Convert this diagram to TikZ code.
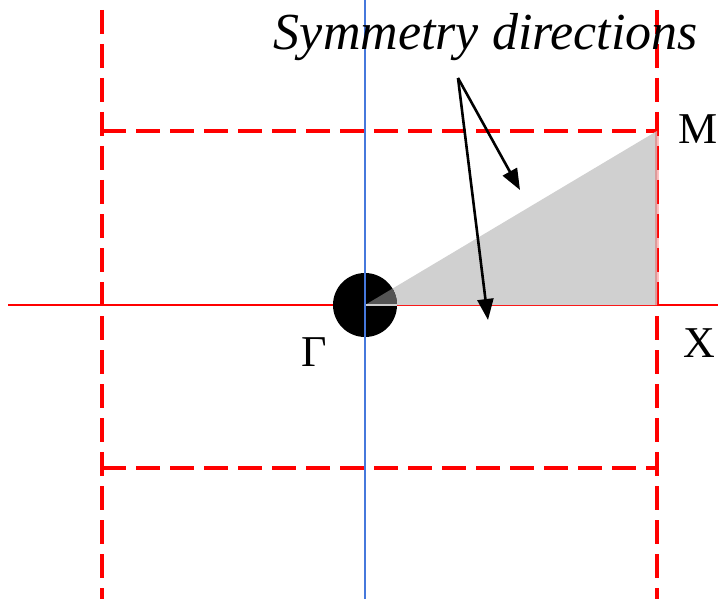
\documentclass[tikz,border=0pt]{standalone}
\usepackage{fontspec}
\setmainfont{Liberation Serif}
\usetikzlibrary{arrows.meta}
\definecolor{zonered}{RGB}{255,0,0}
\definecolor{axisblue}{RGB}{70,120,220}
\definecolor{wedge}{RGB}{208,208,208}
\tikzset{
  zone/.style={draw=zonered, line width=3.2pt, dash pattern=on 24pt off 10pt},
  axisline/.style={line width=1.1pt},
  pointer/.style={draw=black, line width=2.6pt, -{Triangle[length=21pt,width=16pt]}},
  lbl/.style={inner sep=0pt, font=\fontsize{44}{48}\selectfont}
}
\begin{document}
\begin{tikzpicture}[x=1pt,y=-1pt]
\useasboundingbox (0,0) rectangle (718,599);
% zone boundaries
\draw[zone] (102,10) -- (102,599);
\draw[zone] (657,10) -- (657,599);
\draw[zone] (102,131) -- (657,131);
\draw[zone] (102,468) -- (657,468);
% axes
\draw[axisline, draw=zonered] (8,305) -- (718,305);
\draw[axisline, draw=axisblue] (365,0) -- (365,599);
% irreducible wedge
\coordinate (G) at (365,305);
\coordinate (M) at (657,131);
\coordinate (X) at (657,305);
\fill[wedge] (G) -- (M) -- (X) -- cycle;
\draw[zonered, line width=3.2pt, opacity=0.25] (M) -- (X);
\fill[black] (G) circle[radius=32];
\begin{scope}
\clip (G) circle[radius=32];
\fill[black!67] (G) -- (M) -- (X) -- cycle;
\draw[axisline, draw=white!80!black] (G) -- (X);
\end{scope}
\draw[axisline, draw=axisblue] (365,273) -- (365,337);
% labels
\node[lbl, anchor=base] (gamma) at (314,366) {Γ};
\node[lbl, anchor=base west] (mlbl) at (678,144) {M};
\node[lbl, anchor=base west] (xlbl) at (683,357) {X};
\node[inner sep=0pt, anchor=base, font=\fontsize{52}{56}\selectfont\itshape] (sym) at (486,50) {Symmetry directions};
% pointers
\coordinate (src) at (458,78);
\coordinate (tipA) at (520,190);
\coordinate (tipB) at (488,320);
\draw[pointer] (src) -- (tipA);
\draw[pointer] (src) -- (tipB);
\end{tikzpicture}
\end{document}
